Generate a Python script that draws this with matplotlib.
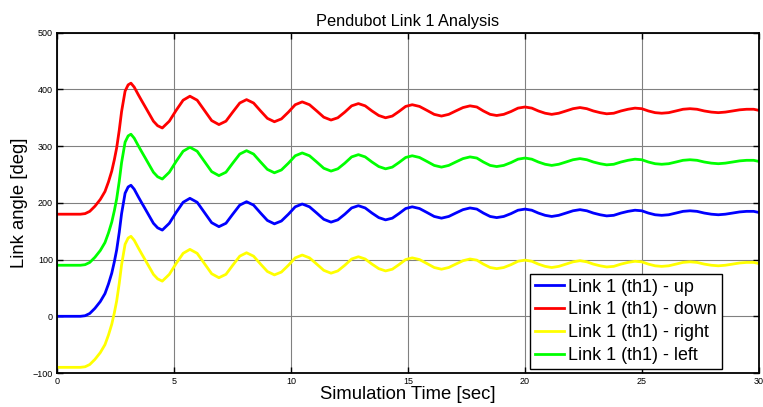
import matplotlib
matplotlib.use("Agg")
import matplotlib.pyplot as plt

plt.rcParams["font.family"] = ["Liberation Sans", "DejaVu Sans"]

# simulation time samples [sec]
time_s = [
    0.00, 1.00, 1.20, 1.40, 1.62, 1.85, 2.05, 2.20, 2.34, 2.45,
    2.55, 2.66, 2.76, 2.91, 3.04, 3.16, 3.30, 3.47, 3.62, 3.76,
    3.94, 4.12, 4.30, 4.50, 4.80, 5.09, 5.39, 5.68, 5.99, 6.30,
    6.61, 6.92, 7.22, 7.51, 7.81, 8.10, 8.40, 8.70, 8.99, 9.29,
    9.59, 9.89, 10.18, 10.48, 10.79, 11.10, 11.40, 11.71, 12.00, 12.30,
    12.59, 12.88, 13.17, 13.46, 13.75, 14.04, 14.33, 14.61, 14.90, 15.18,
    15.49, 15.81, 16.12, 16.43, 16.74, 17.04, 17.35, 17.65, 17.94, 18.22,
    18.51, 18.79, 19.09, 19.40, 19.70, 20.00, 20.29, 20.57, 20.86, 21.14,
    21.44, 21.75, 22.05, 22.35, 22.64, 22.92, 23.21, 23.49, 23.79, 24.10,
    24.40, 24.70, 24.99, 25.27, 25.56, 25.84, 26.14, 26.45, 26.75, 27.05,
    27.35, 27.66, 27.96, 28.26, 28.56, 28.87, 29.17, 29.47, 29.77, 30.00,
]

# link 1 angle [deg] for each start position
th1_up = [
    0, 0, 1, 5, 14, 26, 40, 57, 76, 96,
    117, 148, 181, 217, 228, 231, 224, 211, 200, 190,
    177, 164, 156, 152, 164, 183, 201, 208, 201, 183,
    165, 158, 164, 180, 196, 202, 196, 182, 169, 163,
    168, 180, 193, 198, 193, 182, 171, 166, 170, 180,
    191, 195, 191, 182, 174, 170, 173, 181, 190, 193,
    190, 183, 176, 173, 176, 182, 188, 191, 189, 182,
    176, 174, 176, 181, 187, 189, 187, 182, 178, 176,
    178, 182, 186, 188, 186, 182, 179, 177, 178, 182,
    185, 187, 186, 182, 179, 178, 179, 182, 185, 186,
    185, 182, 180, 179, 180, 182, 184, 185, 185, 183,
]
th1_down = [
    180, 180, 181, 185, 194, 206, 220, 237, 256, 276,
    297, 328, 361, 397, 408, 411, 404, 391, 380, 370,
    357, 344, 336, 332, 344, 363, 381, 388, 381, 363,
    345, 338, 344, 360, 376, 382, 376, 362, 349, 343,
    348, 360, 373, 378, 373, 362, 351, 346, 350, 360,
    371, 375, 371, 362, 354, 350, 353, 361, 370, 373,
    370, 363, 356, 353, 356, 362, 368, 371, 369, 362,
    356, 354, 356, 361, 367, 369, 367, 362, 358, 356,
    358, 362, 366, 368, 366, 362, 359, 357, 358, 362,
    365, 367, 366, 362, 359, 358, 359, 362, 365, 366,
    365, 362, 360, 359, 360, 362, 364, 365, 365, 363,
]
th1_right = [
    -90, -90, -89, -85, -76, -64, -50, -33, -14, 6,
    27, 58, 91, 127, 138, 141, 134, 121, 110, 100,
    87, 74, 66, 62, 74, 93, 111, 118, 111, 93,
    75, 68, 74, 90, 106, 112, 106, 92, 79, 73,
    78, 90, 103, 108, 103, 92, 81, 76, 80, 90,
    101, 105, 101, 92, 84, 80, 83, 91, 100, 103,
    100, 93, 86, 83, 86, 92, 98, 101, 99, 92,
    86, 84, 86, 91, 97, 99, 97, 92, 88, 86,
    88, 92, 96, 98, 96, 92, 89, 87, 88, 92,
    95, 97, 96, 92, 89, 88, 89, 92, 95, 96,
    95, 92, 90, 89, 90, 92, 94, 95, 95, 93,
]
th1_left = [
    90, 90, 91, 95, 104, 116, 130, 147, 166, 186,
    207, 238, 271, 307, 318, 321, 314, 301, 290, 280,
    267, 254, 246, 242, 254, 273, 291, 298, 291, 273,
    255, 248, 254, 270, 286, 292, 286, 272, 259, 253,
    258, 270, 283, 288, 283, 272, 261, 256, 260, 270,
    281, 285, 281, 272, 264, 260, 263, 271, 280, 283,
    280, 273, 266, 263, 266, 272, 278, 281, 279, 272,
    266, 264, 266, 271, 277, 279, 277, 272, 268, 266,
    268, 272, 276, 278, 276, 272, 269, 267, 268, 272,
    275, 277, 276, 272, 269, 268, 269, 272, 275, 276,
    275, 272, 270, 269, 270, 272, 274, 275, 275, 273,
]

series = [
    ("Link 1 (th1) - up", th1_up, "#0000ff"),
    ("Link 1 (th1) - down", th1_down, "#ff0000"),
    ("Link 1 (th1) - right", th1_right, "#ffff00"),
    ("Link 1 (th1) - left", th1_left, "#00ff00"),
]

x_ticks = [0, 5, 10, 15, 20, 25, 30]
y_ticks = [-100, 0, 100, 200, 300, 400, 500]

fig = plt.figure(figsize=(7.63, 4.07), dpi=100)
ax = fig.add_axes([0.0747, 0.0835, 0.9201, 0.8362])

for label, values, color in series:
    ax.plot(time_s, values, color=color, linewidth=2.0, label=label,
            solid_joinstyle="round")

ax.set_xlim(0, 30)
ax.set_ylim(-100, 500)
ax.set_xticks(x_ticks)
ax.set_yticks(y_ticks)
ax.grid(True, color="0.5", linewidth=0.8)
ax.tick_params(direction="in", top=True, right=True, length=4, width=1,
               labelsize=6.5, pad=3)
for sp in ax.spines.values():
    sp.set_linewidth(1.3)
    sp.set_color("black")

ax.set_title("Pendubot Link 1 Analysis", fontsize=11.8, pad=5)
ax.set_xlabel("Simulation Time [sec]", fontsize=13.3, labelpad=0)
ax.set_ylabel("Link angle [deg]", fontsize=13.3, labelpad=3)

leg = ax.legend(loc="lower right", bbox_to_anchor=(0.947, 0.012), fontsize=12.9,
                handlelength=1.6, handletextpad=0.25, labelspacing=0.32,
                borderpad=0.28, borderaxespad=0, fancybox=False, framealpha=1)
leg.get_frame().set_edgecolor("black")
leg.get_frame().set_linewidth(1.0)

fig.savefig("out.png", dpi=100)
